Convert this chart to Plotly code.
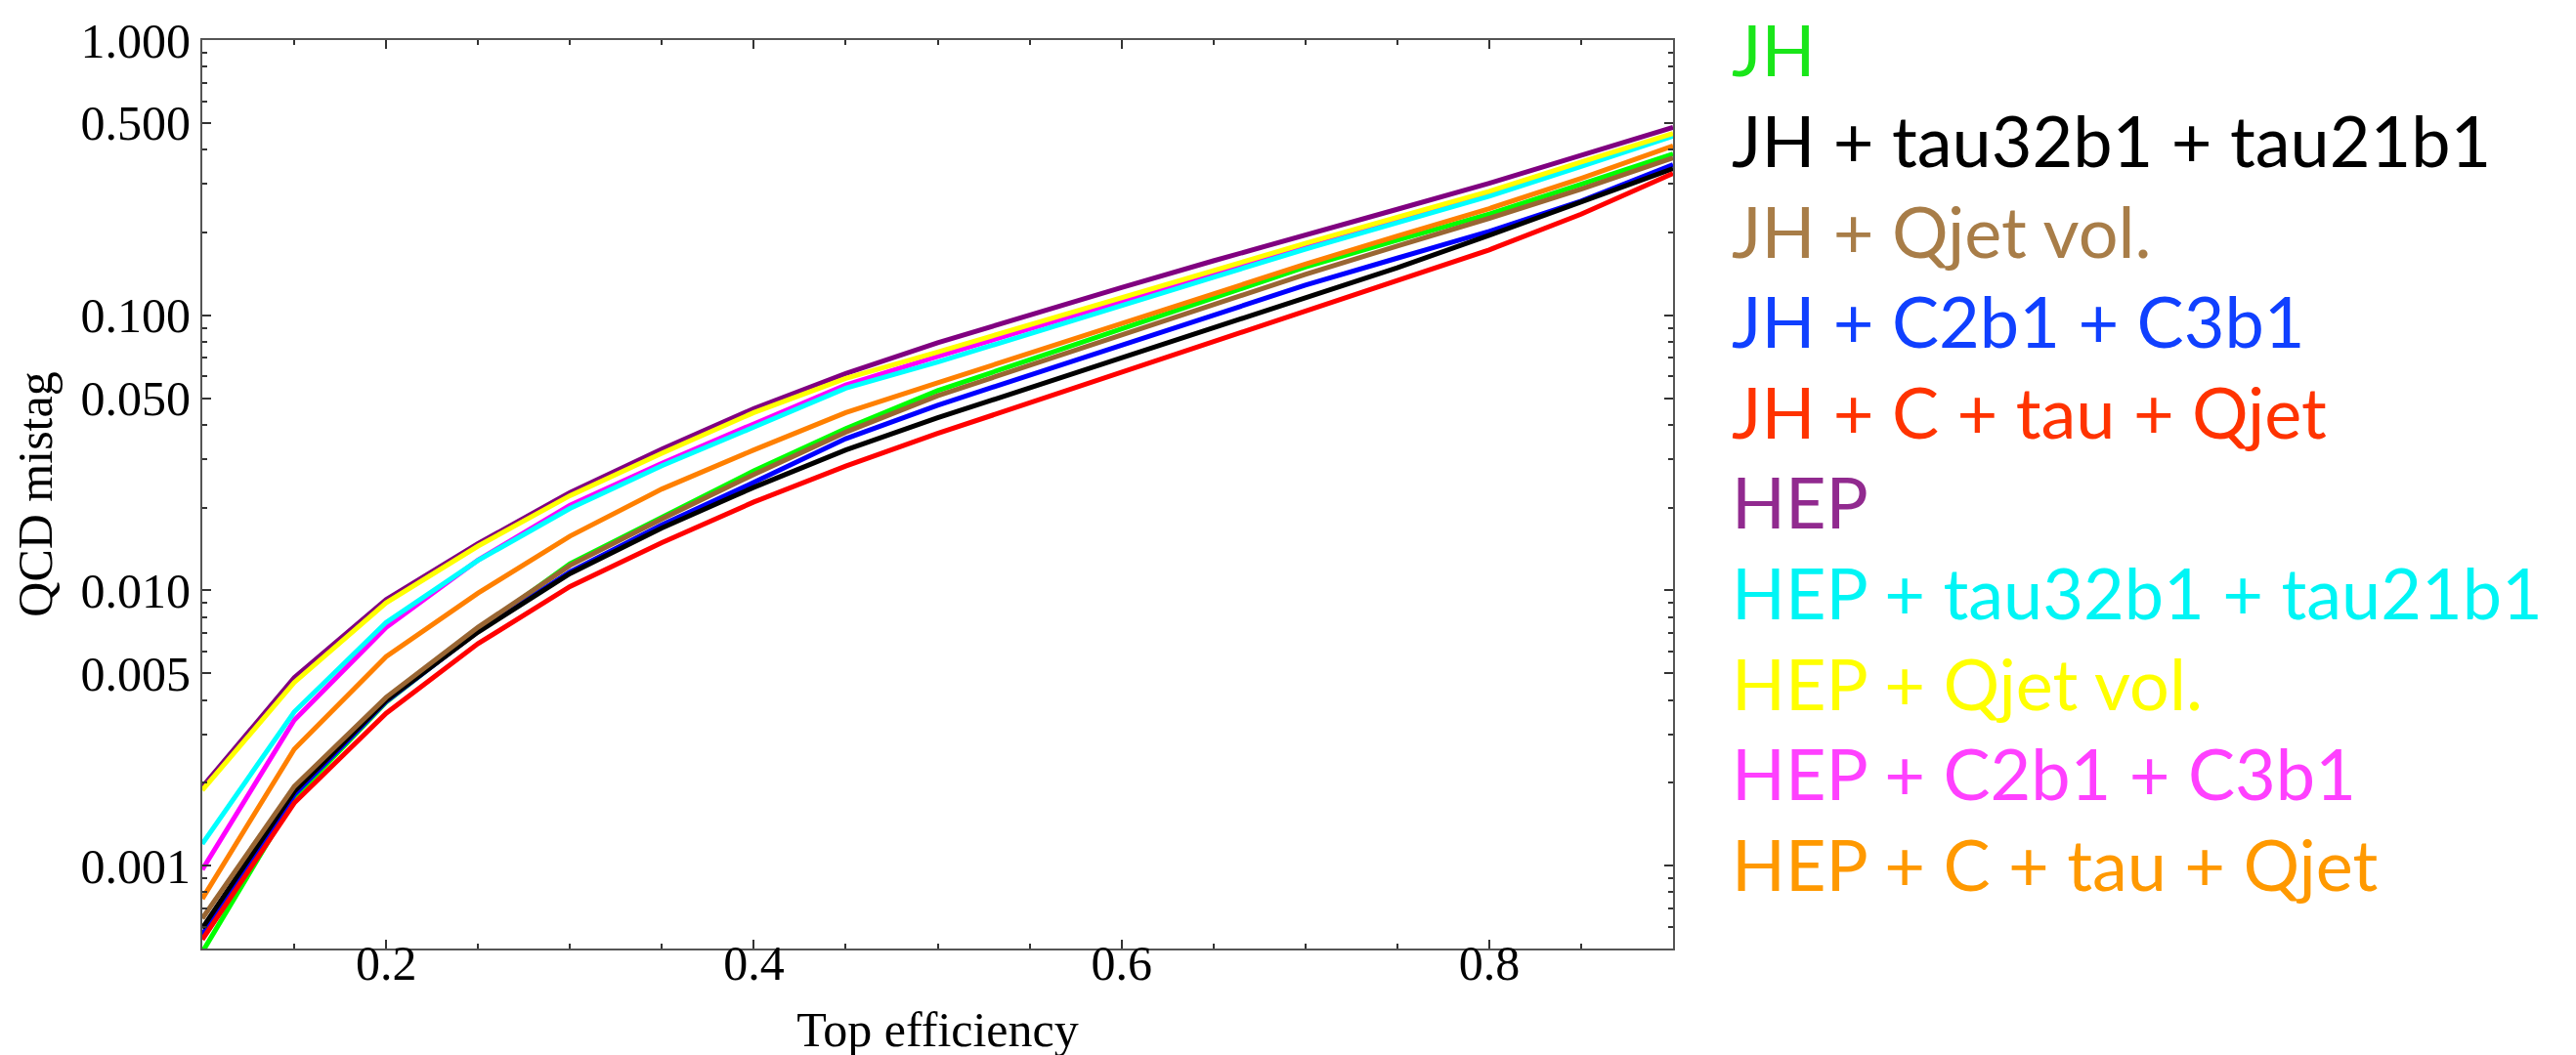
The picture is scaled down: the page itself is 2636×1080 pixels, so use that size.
import plotly.graph_objects as go

# ---------------- data ----------------
efficiency = [0.10, 0.15, 0.20, 0.25, 0.30, 0.35, 0.40, 0.45, 0.50,
              0.55, 0.60, 0.65, 0.70, 0.75, 0.80, 0.85, 0.90]

mistag_JH = [0.000485, 0.00176, 0.00393, 0.00717, 0.0125, 0.0184, 0.0272, 0.0387, 0.0532,
             0.0689, 0.0894, 0.1156, 0.1496, 0.1875, 0.2330, 0.2994, 0.3856]
mistag_JH_tau = [0.000593, 0.00186, 0.00399, 0.00706, 0.01152, 0.01687, 0.0237, 0.0324, 0.0424,
                 0.0546, 0.0703, 0.0905, 0.1164, 0.1487, 0.1953, 0.2578, 0.3411]
mistag_JH_qjet = [0.000643, 0.00194, 0.00409, 0.00735, 0.01233, 0.0182, 0.0264, 0.0376, 0.0510,
                  0.0658, 0.0848, 0.1092, 0.1407, 0.1785, 0.2250, 0.2874, 0.3733]
mistag_JH_C = [0.000561, 0.00181, 0.00395, 0.00711, 0.01168, 0.01732, 0.0247, 0.0356, 0.0471,
               0.0607, 0.0778, 0.1002, 0.1286, 0.1613, 0.2018, 0.2600, 0.3525]
mistag_JH_all = [0.000539, 0.00169, 0.00358, 0.00641, 0.01033, 0.01492, 0.02096, 0.0283, 0.0372,
                 0.0481, 0.0622, 0.0804, 0.1038, 0.1334, 0.1728, 0.2330, 0.3275]
mistag_HEP = [0.00193, 0.00482, 0.00926, 0.0148, 0.0227, 0.0326, 0.0458, 0.0614, 0.0794,
              0.1002, 0.1260, 0.1577, 0.1966, 0.2427, 0.3018, 0.3824, 0.4819]
mistag_HEP_tau = [0.00120, 0.00362, 0.00766, 0.01286, 0.01986, 0.0284, 0.0392, 0.0543, 0.0676,
                  0.0859, 0.1088, 0.1373, 0.1739, 0.2178, 0.2708, 0.3476, 0.4477]
mistag_HEP_qjet = [0.00188, 0.00463, 0.00902, 0.0145, 0.0221, 0.0315, 0.0443, 0.0590, 0.0735,
                   0.0924, 0.1156, 0.1454, 0.1824, 0.2268, 0.2821, 0.3602, 0.4576]
mistag_HEP_C = [0.000968, 0.00338, 0.00735, 0.0129, 0.0204, 0.0290, 0.0403, 0.0558, 0.0709,
                0.0894, 0.1124, 0.1413, 0.1783, 0.2222, 0.2771, 0.3538, 0.4520]
mistag_HEP_all = [0.000758, 0.00265, 0.00575, 0.00978, 0.01575, 0.02337, 0.0324, 0.0443, 0.0568,
                  0.0729, 0.0931, 0.1200, 0.1533, 0.1942, 0.2441, 0.3144, 0.4126]

legend_labels = ["JH", "JH + tau32b1 + tau21b1", "JH + Qjet vol.", "JH + C2b1 + C3b1",
                 "JH + C + tau + Qjet", "HEP", "HEP + tau32b1 + tau21b1", "HEP + Qjet vol.",
                 "HEP + C2b1 + C3b1", "HEP + C + tau + Qjet"]
legend_colors = ["#19e619", "#000000", "#a87d48", "#1040ff", "#ff3300",
                 "#912a8f", "#00f5f5", "#ffff00", "#ff40ff", "#ff9900"]

x_tick_vals = [0.2, 0.4, 0.6, 0.8]
x_tick_text = ["0.2", "0.4", "0.6", "0.8"]
y_tick_vals = [0.001, 0.005, 0.01, 0.05, 0.1, 0.5, 1.0]
y_tick_text = ["0.001", "0.005", "0.010", "0.050", "0.100", "0.500", "1.000"]
y_minor_vals = [m * d for d in (0.0001, 0.001, 0.01, 0.1) for m in (2, 3, 4, 6, 7, 8, 9)] + \
               [0.0006, 0.0007, 0.0008, 0.0009]

# (series, name, line colour) in drawing order
series = [
    (mistag_JH, "JH", "#00ff00"),
    (mistag_JH_C, "JH + C2b1 + C3b1", "#0000ff"),
    (mistag_JH_tau, "JH + tau32b1 + tau21b1", "#000000"),
    (mistag_JH_qjet, "JH + Qjet vol.", "#996633"),
    (mistag_JH_all, "JH + C + tau + Qjet", "#ff0000"),
    (mistag_HEP, "HEP", "#800080"),
    (mistag_HEP_C, "HEP + C2b1 + C3b1", "#ff00ff"),
    (mistag_HEP_all, "HEP + C + tau + Qjet", "#ff8000"),
    (mistag_HEP_tau, "HEP + tau32b1 + tau21b1", "#00ffff"),
    (mistag_HEP_qjet, "HEP + Qjet vol.", "#ffff00"),
]

fig = go.Figure()
for vals, name, col in series:
    fig.add_trace(go.Scatter(x=efficiency, y=vals, mode="lines", name=name,
                             line=dict(color=col, width=5), showlegend=False))

W, H = 2636, 1080
ML, MR, MT, MB = 199, 932, 33, 117
plot_w = W - ML - MR
plot_h = H - MT - MB

serif = "Liberation Serif, Times New Roman, serif"
axis_col = "#555555"

fig.update_layout(
    width=W, height=H,
    margin=dict(l=ML, r=MR, t=MT, b=MB, autoexpand=False),
    paper_bgcolor="white", plot_bgcolor="white",
    font=dict(family=serif, size=50, color="black"),
    xaxis=dict(
        range=[0.1, 0.9], showgrid=False, zeroline=False,
        showline=True, linecolor=axis_col, linewidth=2, mirror="ticks",
        tickmode="array", tickvals=x_tick_vals, ticktext=x_tick_text,
        ticks="inside", ticklen=9, tickwidth=1.5, tickcolor="#333333",
        minor=dict(tickmode="linear", tick0=0.1, dtick=0.05, ticks="inside",
                   ticklen=5, tickwidth=1.5, tickcolor="#333333", showgrid=False),
        tickfont=dict(family=serif, size=50, color="black"),
        ticklabelposition="outside", ticklabelstandoff=-30,
        title=dict(text="Top efficiency", font=dict(family=serif, size=50), standoff=23),
    ),
    yaxis=dict(
        type="log", range=[-3.30103, 0], showgrid=False, zeroline=False,
        showline=True, linecolor=axis_col, linewidth=2, mirror="ticks",
        tickmode="array", tickvals=y_tick_vals, ticktext=y_tick_text,
        ticks="inside", ticklen=9, tickwidth=1.5, tickcolor="#333333",
        minor=dict(tickmode="array", tickvals=y_minor_vals, ticks="inside",
                   ticklen=5, tickwidth=1.5, tickcolor="#333333", showgrid=False),
        tickfont=dict(family=serif, size=50, color="black"),
        title=dict(text="QCD mistag", font=dict(family=serif, size=50), standoff=14),
    ),
)

# colour-coded legend text on the right
leg_x = (1762 - ML) / plot_w
for i, (lab, col) in enumerate(zip(legend_labels, legend_colors)):
    fig.add_annotation(
        xref="paper", yref="paper", x=leg_x, y=0.9814 - i * 0.0996,
        xanchor="left", yanchor="middle", showarrow=False,
        height=70, valign="bottom",
        text=lab, font=dict(family="Lato, Gill Sans, sans-serif", size=72, color=col),
    )

fig.write_html("out.html")
